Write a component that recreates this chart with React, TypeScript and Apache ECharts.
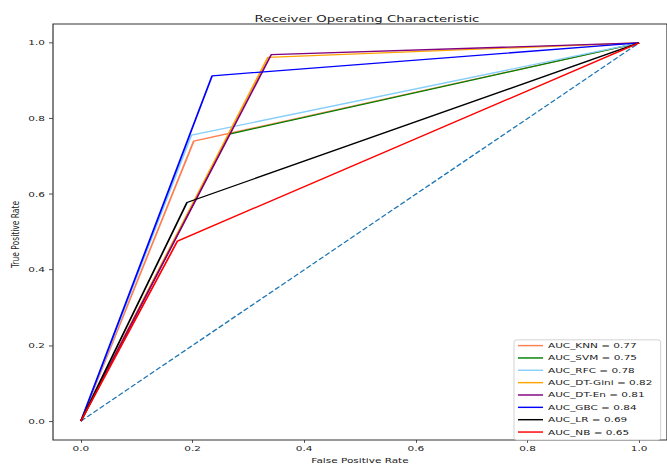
import React, { useEffect, useRef } from "react";
import * as echarts from "echarts";

const modelNames = ["KNN", "SVM", "RFC", "DT-Gini", "DT-En", "GBC", "LR", "NB"];
const aucValues = [0.77, 0.75, 0.78, 0.82, 0.81, 0.84, 0.69, 0.65];
const lineColors = ["#FF7F50", "#008000", "#87CEFA", "#FFA500", "#800080", "#0000FF", "#000000", "#FF0000"];

const fprKNN = [0, 0.202, 1];
const tprKNN = [0, 0.74, 1];
const fprSVM = [0, 0.266, 1];
const tprSVM = [0, 0.759, 1];
const fprRFC = [0, 0.198, 1];
const tprRFC = [0, 0.756, 1];
const fprDTGini = [0, 0.335, 1];
const tprDTGini = [0, 0.962, 1];
const fprDTEn = [0, 0.341, 1];
const tprDTEn = [0, 0.969, 1];
const fprGBC = [0, 0.235, 1];
const tprGBC = [0, 0.913, 1];
const fprLR = [0, 0.19, 1];
const tprLR = [0, 0.578, 1];
const fprNB = [0, 0.173, 1];
const tprNB = [0, 0.476, 1];

const chanceFpr = [0, 1];
const chanceTpr = [0, 1];

const tickValues = [0, 0.2, 0.4, 0.6, 0.8, 1.0];

const fprList = [fprKNN, fprSVM, fprRFC, fprDTGini, fprDTEn, fprGBC, fprLR, fprNB];
const tprList = [tprKNN, tprSVM, tprRFC, tprDTGini, tprDTEn, tprGBC, tprLR, tprNB];

const SY = 0.72; // vertical squash of the reference image
const W = 667;
const H = 468 / SY;
const FONT = "DejaVu Sans";

const pairs = (xs: number[], ys: number[]) => xs.map((x, i) => [x, ys[i]]);

export default function App() {
  const ref = useRef<HTMLDivElement>(null);
  useEffect(() => {
    if (!ref.current) return;
    const chart = echarts.init(ref.current, undefined, { renderer: "svg", width: W, height: H });
    const labels = modelNames.map((n, i) => `AUC_${n} = ${aucValues[i].toFixed(2)}`);
    const series: any[] = modelNames.map((n, i) => ({
      name: labels[i],
      type: "line",
      data: pairs(fprList[i], tprList[i]),
      symbol: "none",
      showSymbol: false,
      lineStyle: { color: lineColors[i], width: 1.8 },
      itemStyle: { color: lineColors[i] },
      z: 3,
    }));
    series.push({
      name: "chance",
      type: "line",
      data: pairs(chanceFpr, chanceTpr),
      symbol: "none",
      showSymbol: false,
      lineStyle: { color: "#1f77b4", width: 1.6, type: [6, 2.6] },
      z: 2,
    });
    const axisCommon = {
      type: "value",
      min: -0.05,
      max: 1.05,
      splitLine: { show: false },
      axisLine: { show: false, onZero: false },
      axisTick: { show: true, customValues: tickValues, length: 4, inside: false, lineStyle: { color: "#333", width: 1 } },
      axisLabel: {
        customValues: tickValues,
        formatter: (v: number) => v.toFixed(1),
        color: "#222",
        fontFamily: FONT,
        fontSize: 10.5,
      },
    };
    chart.setOption({
      animation: false,
      backgroundColor: "#ffffff",
      title: {
        text: "Receiver Operating Characteristic",
        left: 362,
        textAlign: "center",
        top: 22 - 8,
        textStyle: { fontFamily: FONT, fontSize: 13.3, fontWeight: "normal", color: "#222" },
      },
      grid: {
        left: 53,
        top: 24 / SY,
        width: 616,
        height: 420 / SY,
        show: true,
        borderColor: "#333",
        borderWidth: 1.2,
        backgroundColor: "transparent",
      },
      xAxis: {
        ...axisCommon,
        position: "bottom",
        axisLabel: { ...axisCommon.axisLabel, margin: 7 },
        name: "False Positive Rate",
        nameLocation: "middle",
        nameGap: 21,
        nameTextStyle: { fontFamily: FONT, fontSize: 10.5, color: "#222" },
      },
      yAxis: {
        ...axisCommon,
        position: "left",
        axisLabel: { ...axisCommon.axisLabel, margin: 8 },
      },
      legend: {
        data: labels,
        orient: "vertical",
        left: 514,
        top: 472,
        padding: [2, 8, 5, 4],
        icon: "rect",
        itemWidth: 25,
        itemHeight: 2,
        itemGap: 5.15,
        backgroundColor: "#ffffff",
        borderColor: "#cccccc",
        borderWidth: 1,
        borderRadius: 3,
        textStyle: { fontFamily: FONT, fontSize: 10.5, lineHeight: 12, color: "#222" },
      },
      graphic: [
        {
          type: "text",
          x: 16,
          y: 234.5 / SY,
          rotation: Math.PI / 2,
          style: {
            text: "True Positive Rate",
            font: `10.5px "${FONT}"`,
            fill: "#222",
            align: "center",
            verticalAlign: "middle",
          },
        },
      ],
      series,
    });
    return () => chart.dispose();
  }, []);
  return (
    <div style={{ position: "fixed", left: 0, top: 0, width: W, height: 468, overflow: "hidden", background: "#fff" }}>
      <div
        ref={ref}
        style={{ width: W, height: H, transform: `scaleY(${SY})`, transformOrigin: "0 0" }}
      />
    </div>
  );
}
